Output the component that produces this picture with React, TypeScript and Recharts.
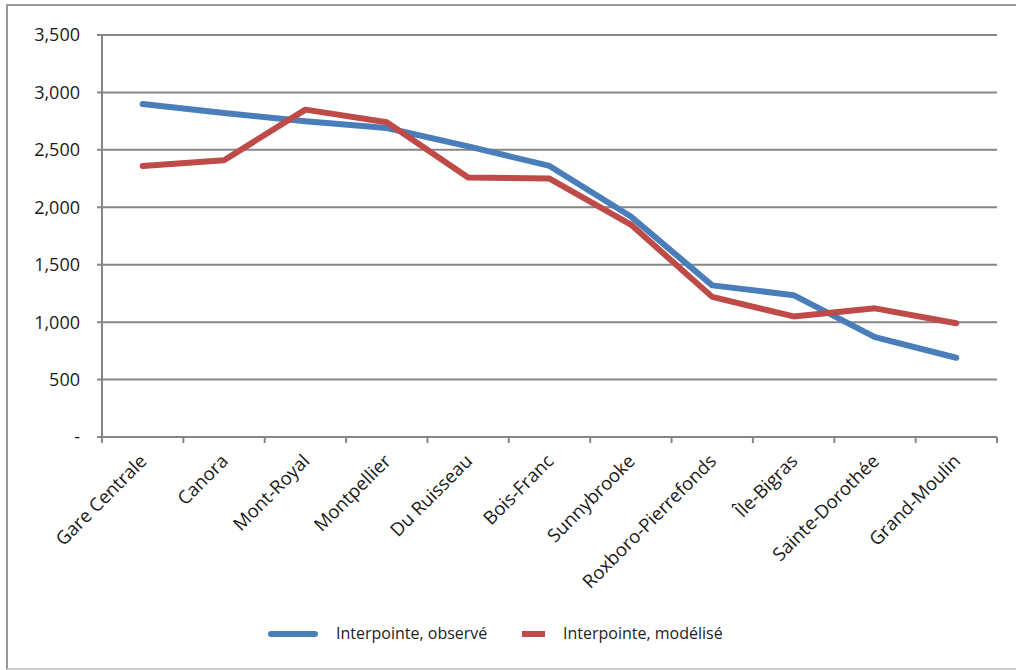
import React from 'react';
import { LineChart, Line, XAxis, YAxis, CartesianGrid, Legend } from 'recharts';

// Stations along the line, west to east
const stations = [
  'Gare Centrale',
  'Canora',
  'Mont-Royal',
  'Montpellier',
  'Du Ruisseau',
  'Bois-Franc',
  'Sunnybrooke',
  'Roxboro-Pierrefonds',
  'Île-Bigras',
  'Sainte-Dorothée',
  'Grand-Moulin',
];

// Off-peak loads
const observed = [2900, 2820, 2750, 2690, 2530, 2360, 1920, 1320, 1235, 870, 690];
const modelled = [2360, 2410, 2850, 2740, 2260, 2250, 1850, 1220, 1050, 1120, 990];

const yTicks = [0, 500, 1000, 1500, 2000, 2500, 3000, 3500];
// Category boundaries for the x-axis tick marks
const boundaries = [0, 1, 2, 3, 4, 5, 6, 7, 8, 9, 10, 11];

const seriesNames = ['Interpointe, observé', 'Interpointe, modélisé'];
const BLUE = '#4a7ebb';
const RED = '#be4b48';
const AXIS = '#868686';
const FONT = '"Open Sans", sans-serif';

const data = stations.map((name, i) => ({
  name,
  idx: i + 0.5,
  observed: observed[i],
  modelled: modelled[i],
}));

const fmtY = (v: number) => (v === 0 ? '-' : v.toLocaleString('en-US'));

// Short downward mark at each category boundary
const BoundaryMark = (props: any) => {
  const { x, y } = props;
  return <line x1={x} x2={x} y1={y - 6} y2={y} stroke={AXIS} strokeWidth={2} />;
};

const LegendContent = () => (
  <div style={{ position: 'relative', height: 28, fontFamily: FONT, fontSize: 16, color: '#222' }}>
    <div style={{ position: 'absolute', left: 260, top: 11, width: 50, height: 6, borderRadius: 3, background: BLUE }} />
    <div style={{ position: 'absolute', left: 328, top: 2, lineHeight: '22px' }}>{seriesNames[0]}</div>
    <div style={{ position: 'absolute', left: 514, top: 11, width: 23, height: 6, background: RED }} />
    <div style={{ position: 'absolute', left: 555, top: 2, lineHeight: '22px' }}>{seriesNames[1]}</div>
  </div>
);

export default function App() {
  return (
    <div
      style={{
        position: 'absolute',
        left: 6,
        top: 4,
        width: 1020,
        height: 666,
        boxSizing: 'border-box',
        borderTop: '2px solid #9a9a9a',
        borderLeft: '2px solid #9a9a9a',
        borderBottom: '2px solid #cfcfcf',
        background: '#fff',
      }}
    >
      <LineChart
        width={1008}
        height={662}
        data={data}
        margin={{ top: 29, right: 19, bottom: 20, left: 34 }}
      >
        <CartesianGrid vertical={false} stroke={AXIS} strokeWidth={2} xAxisId="cat" />
        <XAxis
          xAxisId="bounds"
          type="number"
          dataKey="idx"
          domain={[0, 11]}
          ticks={boundaries}
          tick={<BoundaryMark />}
          tickSize={6}
          tickMargin={0}
          height={1}
          axisLine={{ stroke: AXIS, strokeWidth: 2 }}
          tickLine={false}
        />
        <XAxis
          xAxisId="cat"
          dataKey="name"
          scale="band"
          interval={0}
          height={210}
          angle={-45}
          textAnchor="end"
          tickSize={0}
          tickMargin={15}
          axisLine={false}
          tickLine={false}
          tick={{ fontFamily: FONT, fontSize: 18.5, fill: '#1a1a1a', dx: -4 }}
        />
        <YAxis
          width={60}
          domain={[0, 3500]}
          ticks={yTicks}
          tickFormatter={fmtY}
          tickSize={5}
          tickMargin={17}
          axisLine={{ stroke: AXIS, strokeWidth: 2 }}
          tickLine={{ stroke: AXIS, strokeWidth: 2 }}
          tick={{ fontFamily: FONT, fontSize: 18, fill: '#1a1a1a' }}
        />
        <Legend
          verticalAlign="middle"
          align="center"
          content={<LegendContent />}
          wrapperStyle={{ top: 614, left: 0, width: 1008, height: 28 }}
        />
        <Line
          xAxisId="cat"
          type="linear"
          dataKey="observed"
          name={seriesNames[0]}
          stroke={BLUE}
          strokeWidth={6}
          strokeLinejoin="round"
          strokeLinecap="round"
          dot={false}
          activeDot={false}
          isAnimationActive={false}
        />
        <Line
          xAxisId="cat"
          type="linear"
          dataKey="modelled"
          name={seriesNames[1]}
          stroke={RED}
          strokeWidth={6}
          strokeLinejoin="round"
          strokeLinecap="round"
          dot={false}
          activeDot={false}
          isAnimationActive={false}
        />
      </LineChart>
    </div>
  );
}
